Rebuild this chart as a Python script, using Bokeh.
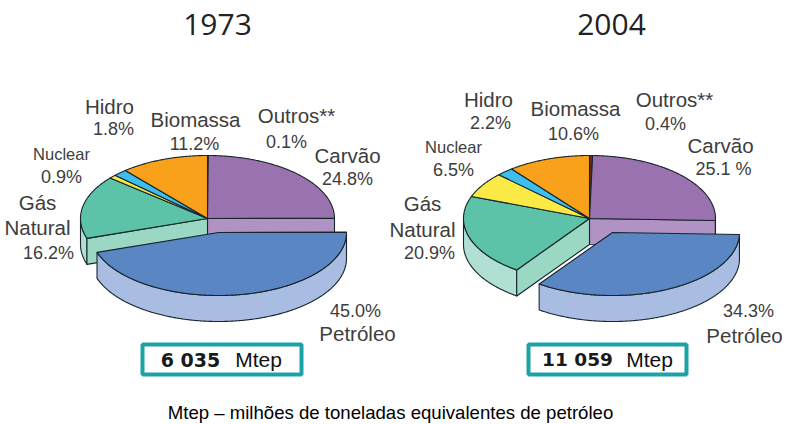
import numpy as np
from bokeh.plotting import figure
from bokeh.models import Range1d
from bokeh.core.properties import value
from bokeh.embed import file_html
from bokeh.resources import INLINE

# ---- data (clockwise from 12 o'clock) ----
slices = ["Outros", "Carvão", "Petróleo", "Gás", "Nuclear", "Hidro", "Biomassa"]
shares_1973 = [0.1, 24.8, 45.0, 16.2, 0.9, 1.8, 11.2]
shares_2004 = [0.4, 25.1, 34.3, 20.9, 6.5, 2.2, 10.6]
years = ["1973", "2004"]
totals = ["6 035", "11 059"]
pct_1973 = ["0.1%", "24.8%", "45.0%", "16.2%", "0.9%", "1.8%", "11.2%"]
pct_2004 = ["0.4%", "25.1 %", "34.3%", "20.9%", "6.5%", "2.2%", "10.6%"]
caption = "Mtep – milhões de toneladas equivalentes de petróleo"

# ---- styles ----
TOP = {"Outros": "#5b3413", "Carvão": "#9b72b0", "Petróleo": "#5b86c4", "Gás": "#5cc2a8",
       "Nuclear": "#fbea45", "Hidro": "#3cbfee", "Biomassa": "#f9a11b"}
WALL = {"Outros": "#5b3413", "Carvão": "#b192c4", "Petróleo": "#a9bce2", "Gás": "#b0e0d3",
        "Nuclear": "#fdf5a0", "Hidro": "#9fdff6", "Biomassa": "#fcd08d"}
FACE = {"Carvão": "#b192c4", "Gás": "#9ad8c4"}
EDGE = "#16262c"
GREY = "#3d3d3d"
TEAL = "#1ba3a8"
HELV = "Liberation Sans"

p = figure(width=796, height=424, output_backend="svg", toolbar_location=None,
           x_range=Range1d(0, 796), y_range=Range1d(424, 0),
           x_axis_type=None, y_axis_type=None, min_border=0,
           outline_line_color=None, background_fill_color="white")
p.grid.visible = False


def ell(cx, cy, rx, ry, a0, a1):
    t = np.radians(np.linspace(a0, a1, max(3, int(abs(a1 - a0)) * 2 + 2)))
    return cx + rx * np.cos(t), cy + ry * np.sin(t)


def poly(xs, ys, fill):
    p.patch(list(xs), list(ys), fill_color=fill, line_color=EDGE, line_width=1.1, line_join="round")


def outer_wall(cx, cy, rx, ry, d, a0, a1, fill):
    lo, hi = max(a0, 0), min(a1, 180)
    if hi <= lo:
        return
    x, y = ell(cx, cy, rx, ry, lo, hi)
    poly(np.r_[x, x[::-1]], np.r_[y, (y + d)[::-1]], fill)


def radial_wall(cx, cy, rx, ry, d, a, fill):
    ex, ey = cx + rx * np.cos(np.radians(a)), cy + ry * np.sin(np.radians(a))
    poly([cx, ex, ex, cx], [cy, ey, ey + d, cy + d], fill)


def top(cx, cy, rx, ry, a0, a1, fill):
    x, y = ell(cx, cy, rx, ry, a0, a1)
    poly(np.r_[cx, x], np.r_[cy, y], fill)


def pie(shares, cx, cy, rx, ry, d, off):
    edges = -90 + 3.6 * np.r_[0, np.cumsum(shares)]
    k = slices.index("Petróleo")
    radial_wall(cx, cy, rx, ry, d, edges[k], FACE["Carvão"])
    for i, name in enumerate(slices):
        if i != k:
            outer_wall(cx, cy, rx, ry, d, edges[i], edges[i + 1], WALL[name])
    radial_wall(cx, cy, rx, ry, d, edges[k + 1], FACE["Gás"])
    for i, name in enumerate(slices):
        if i != k:
            top(cx, cy, rx, ry, edges[i], edges[i + 1], TOP[name])
    ex, ey = cx + off[0], cy + off[1]
    outer_wall(ex, ey, rx + 1, ry, d, edges[k], edges[k + 1], WALL["Petróleo"])
    top(ex, ey, rx + 1, ry, edges[k], edges[k + 1], TOP["Petróleo"])


pie(shares_1973, 207, 218, 127, 63, 26, (11, 14))
pie(shares_2004, 589, 218, 126, 63, 26, (23, 14))


def label(x, y, s, font=HELV, size=20.5, color=GREY, style="normal", align="center"):
    p.text([x], [y], text=[s], text_font=value(font), text_font_size=f"{size}px",
           text_color=color, text_align=align, text_baseline="middle", text_font_style=style)


PCT = 18
NUC = 16.5

# titles
label(217, 24, years[0], font="Open Sans", size=30, color="#222222")
label(611, 24, years[1], font="Open Sans", size=30, color="#222222")

# 1973 labels
label(109, 106, "Hidro");      label(113, 128, pct_1973[5], size=PCT)
label(195, 119, "Biomassa");   label(194, 143, pct_1973[6], size=PCT)
label(296, 115, "Outros**");   label(286, 141, pct_1973[0], size=PCT)
label(347, 155, "Carvão");     label(347, 178, pct_1973[1], size=PCT)
label(61, 153, "Nuclear", size=NUC); label(61, 176, pct_1973[4], size=PCT)
label(37, 202, "Gás");         label(37, 227, "Natural");  label(48, 252, pct_1973[3], size=PCT)
label(355, 310, pct_1973[2], size=PCT); label(357, 333, "Petróleo")

# 2004 labels
label(488, 99, "Hidro");       label(490, 122, pct_2004[5], size=PCT)
label(575, 108, "Biomassa");   label(573, 133, pct_2004[6], size=PCT)
label(674, 99, "Outros**");    label(665, 123, pct_2004[0], size=PCT)
label(720, 145, "Carvão");     label(723, 168, pct_2004[1], size=PCT)
label(453, 146, "Nuclear", size=NUC); label(453, 169, pct_2004[4], size=PCT)
label(422, 203, "Gás");        label(422, 229, "Natural"); label(429, 252, pct_2004[3], size=PCT)
label(748, 310, pct_2004[2], size=PCT); label(744, 335, "Petróleo")

# total boxes
p.quad(left=[142, 528], right=[301, 686], top=[344, 344], bottom=[374, 374],
       fill_color="white", line_color=TEAL, line_width=4)
label(190, 359, totals[0], font="DejaVu Sans", size=19, color="#1a1a1a", style="bold")
label(258, 359, "Mtep", size=21, color="#111111")
label(577, 359, totals[1], font="DejaVu Sans", size=18.5, color="#1a1a1a", style="bold")
label(649, 359, "Mtep", size=21, color="#111111")

# caption
label(390, 412, caption, size=18.6, color="#000000")

open("out.html", "w").write(file_html(p, INLINE))
